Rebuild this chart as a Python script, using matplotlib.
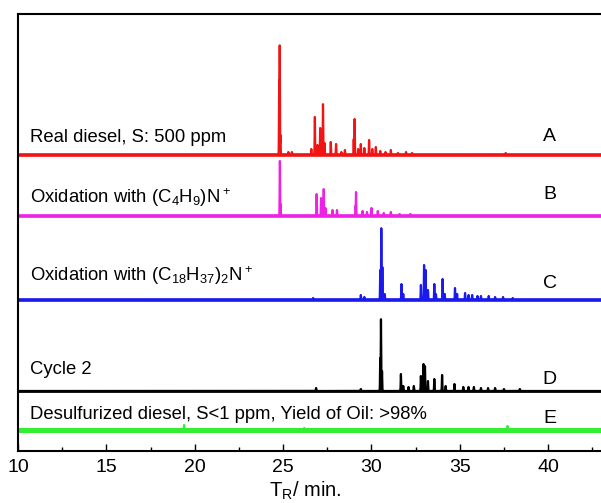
import numpy as np
import matplotlib
matplotlib.use("Agg")
import matplotlib.pyplot as plt
from matplotlib.ticker import MultipleLocator

plt.rcParams['font.family'] = ['Liberation Sans', 'DejaVu Sans']
plt.rcParams['mathtext.default'] = 'regular'

# peak lists: (retention time / min, peak height)
peaks_A = [(24.78, 75), (24.81, 110), (24.85, 20), (25.3, 3), (25.5, 3), (26.6, 6),
           (26.8, 38), (26.95, 10), (27.1, 27), (27.26, 51), (27.35, 12), (27.7, 13),
           (28.0, 11), (28.3, 3), (28.5, 5), (29.0, 16), (29.05, 36), (29.25, 6),
           (29.4, 11), (29.6, 7), (29.87, 15), (30.05, 6), (30.25, 8), (30.5, 4),
           (30.8, 3), (31.1, 5), (31.5, 2), (31.96, 3), (32.3, 2), (37.6, 2)]
peaks_B = [(24.82, 55), (24.86, 12), (26.9, 22), (27.15, 18), (27.3, 27), (27.4, 8),
           (27.8, 6), (28.05, 6), (29.1, 10), (29.13, 24), (29.5, 5), (29.75, 4),
           (30.0, 8), (30.36, 5), (30.7, 3), (31.1, 4), (31.6, 2), (32.2, 2)]
peaks_C = [(26.7, 2), (29.4, 5), (29.6, 3), (30.5, 30), (30.56, 72), (30.62, 33),
           (30.75, 6), (31.7, 16), (31.8, 6), (32.8, 15), (32.98, 35), (33.07, 30),
           (33.2, 10), (33.56, 16), (33.65, 6), (34.03, 21), (34.15, 6), (34.73, 12),
           (34.85, 6), (35.3, 7), (35.5, 5), (35.7, 5), (36.0, 4), (36.2, 4),
           (36.64, 4), (37.0, 3), (37.45, 3), (38.0, 2)]
peaks_D = [(26.87, 3), (29.4, 2), (30.5, 33), (30.54, 72), (30.6, 20), (31.67, 17),
           (31.8, 5), (32.1, 4), (32.4, 5), (32.8, 15), (32.95, 27), (33.03, 25),
           (33.2, 10), (33.56, 12), (34.0, 16), (34.2, 5), (34.7, 7), (35.2, 4),
           (35.5, 4), (35.8, 4), (36.2, 3), (36.6, 3), (37.0, 3), (37.5, 2), (38.4, 2)]
peaks_E = [(19.4, 5), (26.2, 2), (37.7, 4)]

labels = ['Real diesel, S: 500 ppm',
          'Oxidation with (C$_4$H$_9$)N$^+$',
          'Oxidation with (C$_{18}$H$_{37}$)$_2$N$^+$',
          'Cycle 2',
          'Desulfurized diesel, S<1 ppm, Yield of Oil: >98%']
letters = ['A', 'B', 'C', 'D', 'E']
colors = ['#f21414', '#ee22e6', '#1a1aee', '#000000', '#33ee33']

# stacking layout
offsets = [296, 235, 151, 60, 21]
text_y = [309, 248, 170, 77, 32]
letter_y = [310, 252, 163, 67, 28]
base_lw = [2.6, 2.6, 2.6, 2.0, 3.6]

t = np.arange(10, 45, 0.003)


def trace(peaks):
    y = np.zeros_like(t)
    for rt, h in peaks:
        y = np.maximum(y, h * np.exp(-0.5 * ((t - rt) / 0.012) ** 2))
    return y


fig = plt.figure(figsize=(6.01, 5.03), dpi=100)
ax = fig.add_axes([18 / 601, 52 / 503, 35 * 17.67 / 601, 437 / 503])

all_peaks = [peaks_A, peaks_B, peaks_C, peaks_D, peaks_E]
for i, pk in enumerate(all_peaks):
    ax.plot([10, 45], [offsets[i], offsets[i]], color=colors[i], lw=base_lw[i])
    ax.plot(t, offsets[i] + trace(pk), color=colors[i], lw=1.6)
    ax.text(10.7, text_y[i], labels[i], fontsize=13.3, va='baseline', ha='left')
    ax.text(40.1, letter_y[i], letters[i], fontsize=14, va='baseline', ha='center')

ax.set_xlim(10, 45)
ax.set_ylim(0, 437)
ax.set_yticks([])
ax.set_xticks([10, 15, 20, 25, 30, 35, 40])
ax.xaxis.set_minor_locator(MultipleLocator(2.5))
ax.tick_params(axis='x', which='major', direction='in', length=5, width=1,
               labelsize=14, pad=6)
ax.tick_params(axis='x', which='minor', direction='in', length=3, width=1)
for s in ax.spines.values():
    s.set_linewidth(1.5)

ax.set_xlabel('T$_R$/ min.', fontsize=14.5)
ax.xaxis.set_label_coords((305 - 18) / (35 * 17.67), -0.066)

plt.savefig('out.png', dpi=100)
